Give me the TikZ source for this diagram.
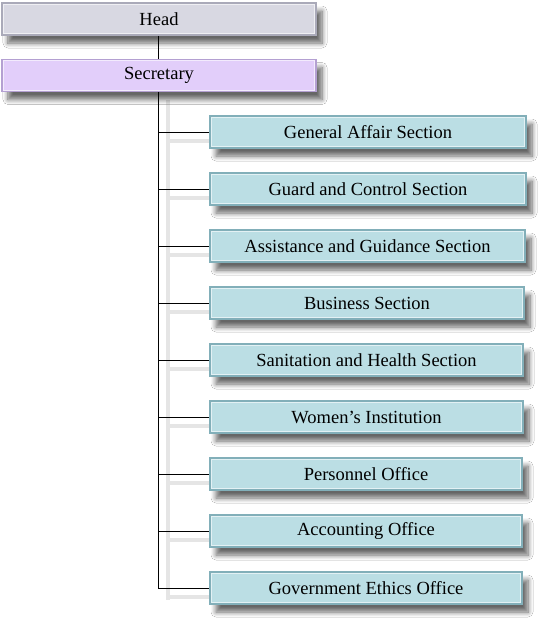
\documentclass[tikz,border=0pt]{standalone}
\usepackage{fontspec}
\setmainfont{Liberation Serif}
\usetikzlibrary{shadows.blur}
\definecolor{headfill}{RGB}{216,216,226}
\definecolor{headedge}{RGB}{170,170,185}
\definecolor{secfill}{RGB}{226,206,250}
\definecolor{secedge}{RGB}{180,160,210}
\definecolor{subfill}{RGB}{187,222,228}
\definecolor{subedge}{RGB}{130,175,185}
\tikzset{
  boxbase/.style={rectangle, minimum height=32pt, inner sep=0pt, font=\fontsize{18.5}{21}\selectfont,
     line width=1.6pt, blur shadow={shadow xshift=6pt, shadow yshift=-8pt, shadow blur steps=8, shadow blur radius=5pt, shadow opacity=60}},
  headbox/.style={boxbase, fill=headfill, draw=headedge, minimum width=314pt},
  secbox/.style={boxbase, fill=secfill, draw=secedge, minimum width=314pt},
  subbox/.style={boxbase, fill=subfill, draw=subedge, minimum width=314pt},
  conn/.style={line width=1pt, black},
  connshade/.style={line width=4pt, black!10},
}
\begin{document}
\begin{tikzpicture}[x=1pt,y=-1pt]
\useasboundingbox[fill=white] (0,0) rectangle (550,627);
% connector shadows
\draw[connshade] (168,100) -- (168,600);
\foreach \yy in {132,189,246,303,360,417,474,531,588}{
  \draw[connshade] (168,\yy+9) -- (215,\yy+9);
}
\node[headbox] (head) at (159,19) {Head};
\node[secbox] (sec) at (159,75.5) {Secretary};
\coordinate (trunk) at (158,588);
\node[subbox, minimum width=316pt] (s1) at (368,132) {General Affair Section};
\node[subbox, minimum width=316pt] (s2) at (368,189) {Guard and Control Section};
\node[subbox, minimum width=315pt] (s3) at (367.5,246) {Assistance and Guidance Section};
\node[subbox, minimum width=314pt] (s4) at (367,303) {Business Section};
\node[subbox, minimum width=313pt] (s5) at (366.5,360) {Sanitation and Health Section};
\node[subbox, minimum width=313pt] (s6) at (366.5,417) {Women’s Institution};
\node[subbox, minimum width=312pt] (s7) at (366,474) {Personnel Office};
\node[subbox, minimum width=312pt] (s8) at (366,531) {Accounting Office};
\node[subbox, minimum width=312pt] (s9) at (366,588) {Government Ethics Office};
% inner highlights
\foreach \n in {head,sec,s1,s2,s3,s4,s5,s6,s7,s8,s9}{
  \draw[white, opacity=0.6, line width=0.8pt] ([xshift=2pt,yshift=-2pt]\n.north west) rectangle ([xshift=-2pt,yshift=2pt]\n.south east);
}
% connectors
\draw[conn] (head.south -| trunk) -- (sec.north -| trunk);
\draw[conn] (sec.south -| trunk) -- (trunk);
\foreach \n in {s1,s2,s3,s4,s5,s6,s7,s8,s9}{
  \draw[conn] (\n.west -| trunk) -- (\n.west);
}
\end{tikzpicture}
\end{document}
